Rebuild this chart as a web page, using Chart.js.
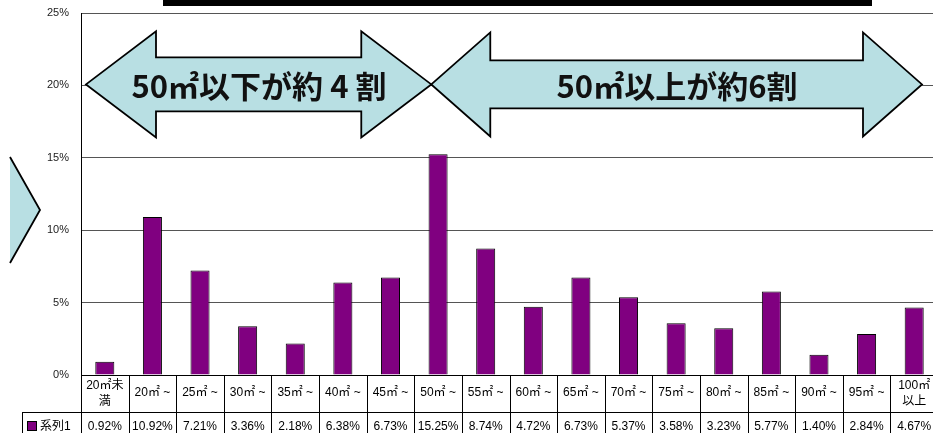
<!DOCTYPE html>
<html>
<head>
<meta charset="utf-8">
<script src="https://cdn.jsdelivr.net/npm/chart.js@4.4.0/dist/chart.umd.min.js"></script>
<style>
    html, body { margin: 0; padding: 0; background: #fff; overflow: hidden; }
    #wrap { position: relative; width: 940px; height: 433px; }
</style>
</head>
<body>
<div id="wrap"><canvas id="chart"></canvas></div>
<script>
// Floor area bands (two-line labels split with \n)
const categories = [
    '20㎡未\n満', '20㎡ ~', '25㎡ ~', '30㎡ ~', '35㎡ ~', '40㎡ ~', '45㎡ ~', '50㎡ ~', '55㎡ ~',
    '60㎡ ~', '65㎡ ~', '70㎡ ~', '75㎡ ~', '80㎡ ~', '85㎡ ~', '90㎡ ~', '95㎡ ~', '100㎡\n以上'
];
// Share of each band, percent
const seriesValues = [
    0.92, 10.92, 7.21, 3.36, 2.18, 6.38, 6.73, 15.25, 8.74,
    4.72, 6.73, 5.37, 3.58, 3.23, 5.77, 1.40, 2.84, 4.67
];
const seriesName = '系列1';
const yTicks = [0, 5, 10, 15, 20, 25];
const arrowLabels = ['50㎡以下が約 4 割', '50㎡以上が約6割'];

const barColor = '#800080';
const arrowFill = '#b8dfe3';
const tableFont = "12px 'Liberation Sans', 'Noto Sans CJK JP', sans-serif";

// Data table under the plot, drawn from the x scale
const dataTable = {
    id: 'dataTable',
    afterDraw(chart) {
        const { ctx, scales: { x } } = chart;
        const area = chart.chartArea;
        const colW = x.getPixelForValue(1) - x.getPixelForValue(0);
        const top = area.bottom;
        const mid = top + 37;
        const bottom = 440;
        const legendLeft = 22;

        ctx.save();
        ctx.strokeStyle = '#000';
        ctx.lineWidth = 1;
        ctx.beginPath();
        ctx.moveTo(area.left, top + 0.5);
        ctx.lineTo(chart.width, top + 0.5);
        ctx.moveTo(legendLeft, mid + 0.5);
        ctx.lineTo(chart.width, mid + 0.5);
        ctx.moveTo(legendLeft + 0.5, mid);
        ctx.lineTo(legendLeft + 0.5, bottom);
        for (let i = 0; i <= categories.length; i++) {
            const px = Math.round(x.getPixelForValue(i) - colW / 2) + 0.5;
            ctx.moveTo(px, top);
            ctx.lineTo(px, bottom);
        }
        ctx.stroke();

        ctx.fillStyle = '#000';
        ctx.font = tableFont;
        ctx.textAlign = 'center';
        ctx.textBaseline = 'middle';
        categories.forEach((label, i) => {
            const cx = x.getPixelForValue(i);
            const lines = label.split('\n');
            if (lines.length === 1) {
                ctx.fillText(lines[0], cx, top + 18);
            } else {
                ctx.fillText(lines[0], cx, top + 11);
                ctx.fillText(lines[1], cx, top + 27);
            }
            ctx.fillText(seriesValues[i].toFixed(2) + '%', cx, mid + 15);
        });

        // legend key in the first cell
        ctx.fillStyle = barColor;
        ctx.fillRect(27.5, mid + 9.5, 9, 9);
        ctx.strokeRect(27.5, mid + 9.5, 9, 9);
        ctx.fillStyle = '#000';
        ctx.textAlign = 'left';
        ctx.fillText(seriesName, 40, mid + 15);
        ctx.restore();
    }
};

function arrowPath(ctx, x1, x2, cy, headW, headH, shaftH) {
    ctx.beginPath();
    ctx.moveTo(x1, cy);
    ctx.lineTo(x1 + headW, cy - headH);
    ctx.lineTo(x1 + headW, cy - shaftH);
    ctx.lineTo(x2 - headW, cy - shaftH);
    ctx.lineTo(x2 - headW, cy - headH);
    ctx.lineTo(x2, cy);
    ctx.lineTo(x2 - headW, cy + headH);
    ctx.lineTo(x2 - headW, cy + shaftH);
    ctx.lineTo(x1 + headW, cy + shaftH);
    ctx.lineTo(x1 + headW, cy + headH);
    ctx.closePath();
    ctx.fillStyle = arrowFill;
    ctx.fill();
    ctx.strokeStyle = '#000';
    ctx.lineWidth = 1.8;
    ctx.stroke();
}

// Callout arrows and header bar over the plot
const overlays = {
    id: 'overlays',
    afterDraw(chart) {
        const { ctx, scales: { x, y } } = chart;
        const colW = x.getPixelForValue(1) - x.getPixelForValue(0);
        const cy = y.getPixelForValue(20) - 1;
        const split = x.getPixelForValue(7) - colW / 2 + 17;
        ctx.save();

        ctx.fillStyle = '#000';
        ctx.fillRect(163, 0, 709, 6);

        arrowPath(ctx, chart.chartArea.left + 5, split, cy, 70, 53, 27);
        arrowPath(ctx, split, 922, cy, 59, 52, 24);

        // partial arrow on the far left
        ctx.beginPath();
        ctx.moveTo(10, 157);
        ctx.lineTo(40, 210);
        ctx.lineTo(10, 263);
        ctx.fillStyle = arrowFill;
        ctx.fill();
        ctx.lineWidth = 1.8;
        ctx.stroke();

        ctx.fillStyle = '#111';
        ctx.font = "bold 31px 'Noto Sans CJK JP', sans-serif";
        ctx.textAlign = 'center';
        ctx.textBaseline = 'middle';
        ctx.fillText(arrowLabels[0], 259, cy + 2);
        ctx.fillText(arrowLabels[1], 677, cy + 2);
        ctx.restore();
    }
};

new Chart(document.getElementById('chart'), {
    type: 'bar',
    data: {
        labels: categories,
        datasets: [{
            label: seriesName,
            data: seriesValues,
            backgroundColor: barColor,
            borderColor: '#000',
            borderWidth: 1,
            barPercentage: 0.4,
            categoryPercentage: 1.0
        }]
    },
    options: {
        responsive: true,
        maintainAspectRatio: false,
        animation: false,
        layout: { padding: { top: 13, right: 2, bottom: 58, left: 0 } },
        plugins: {
            legend: { display: false },
            tooltip: { enabled: false }
        },
        scales: {
            x: { display: false },
            y: {
                min: 0,
                max: 25,
                afterBuildTicks: (scale) => { scale.ticks = yTicks.map(v => ({ value: v })); },
                afterFit: (scale) => {
                    scale.width = 81;
                    scale.paddingTop = 0;
                    scale.paddingBottom = 0;
                },
                border: { color: '#000', width: 1 },
                grid: { color: '#555', drawTicks: false },
                ticks: {
                    padding: 12,
                    color: '#222',
                    font: { family: "'Liberation Sans', sans-serif", size: 11 },
                    callback: (v) => v + '%'
                }
            }
        }
    },
    plugins: [dataTable, overlays]
});
</script>
</body>
</html>
